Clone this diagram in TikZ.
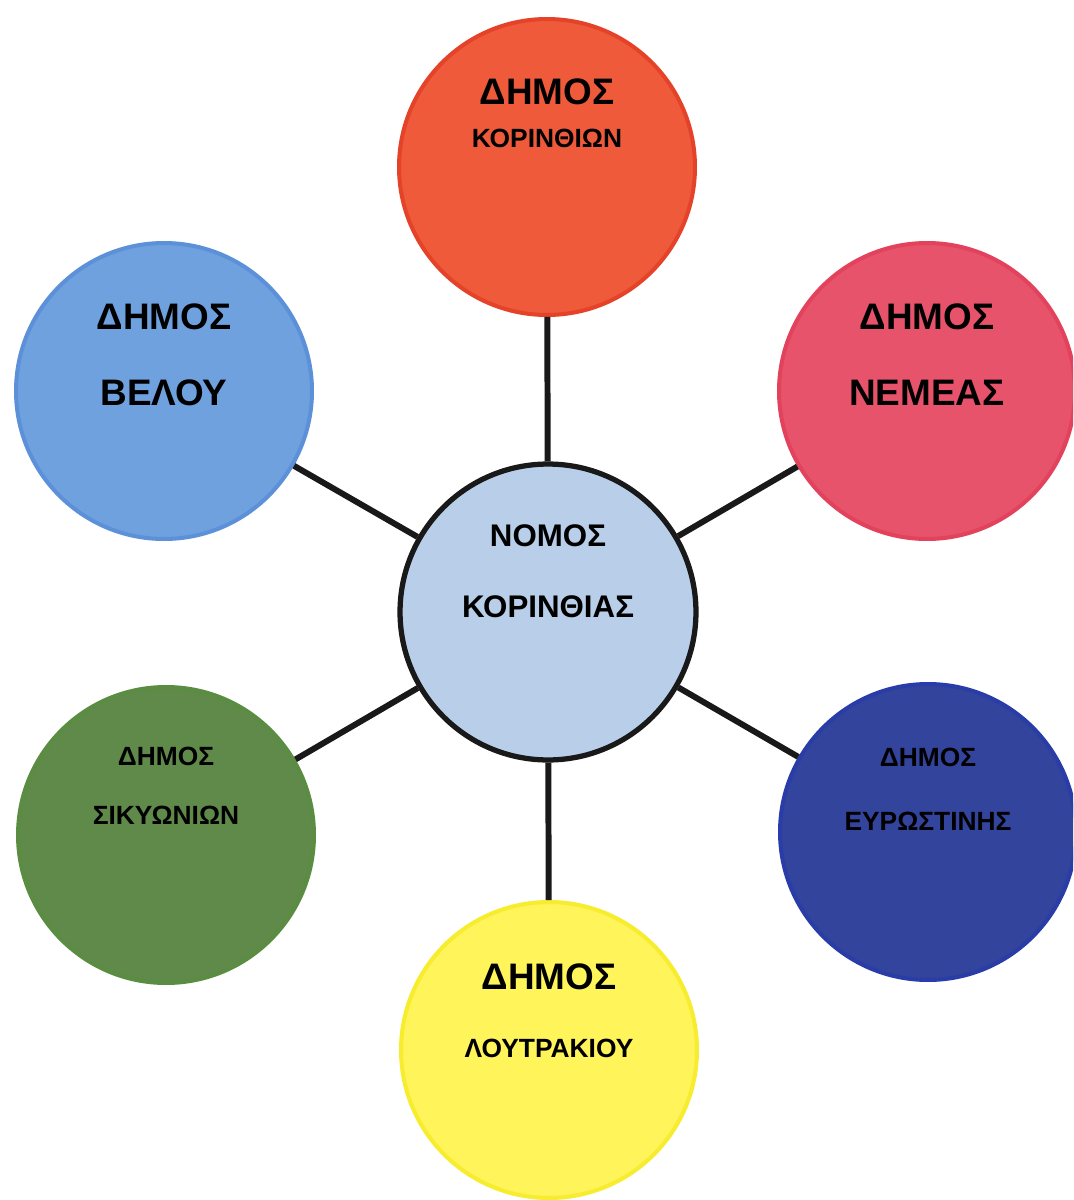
\documentclass[tikz,border=0pt]{standalone}
\usepackage{fontspec}
\setmainfont{Liberation Sans}
\usepackage{xcolor}
\usepackage{tikz}
\usetikzlibrary{calc}
\definecolor{redfill}{HTML}{EF5A3B}
\definecolor{redborder}{HTML}{E4432A}
\definecolor{skyfill}{HTML}{70A1DF}
\definecolor{skyborder}{HTML}{5C90D8}
\definecolor{pinkfill}{HTML}{E8536C}
\definecolor{pinkborder}{HTML}{E2425C}
\definecolor{greenfill}{HTML}{5F8A4A}
\definecolor{greenborder}{HTML}{5A8C42}
\definecolor{navyfill}{HTML}{33449D}
\definecolor{navyborder}{HTML}{2A3CA6}
\definecolor{yellowfill}{HTML}{FFF45A}
\definecolor{yellowborder}{HTML}{F7EC2E}
\definecolor{nomosfill}{HTML}{B9CFE9}
\tikzset{
  dimos/.style={circle, minimum size=5.92cm, line width=2.3pt, inner sep=0pt},
  bigtext/.style={inner sep=0pt, font=\fontsize{21}{24}\selectfont\bfseries},
  smalltext/.style={inner sep=0pt, font=\fontsize{15}{18}\selectfont\bfseries},
  nomostext/.style={inner sep=0pt, font=\fontsize{17.8}{21}\selectfont\bfseries},
  link/.style={line width=3.4pt, black!90}
}
\begin{document}
\begin{tikzpicture}[x=0.02cm, y=-0.02cm]
    \clip (0,0) rectangle (1073,1200);
    \fill[white] (0,0) rectangle (1073,1200);

    % the prefecture in the middle
    \node[dimos, fill=nomosfill, draw=black!90, line width=3pt] (nomos) at (548,612) {};

    % the six municipalities
    \node[dimos, fill=redfill, draw=redborder] (korinthos) at (547,167) {};
    \node[dimos, fill=skyfill, draw=skyborder] (velo) at (164,391) {};
    \node[dimos, fill=pinkfill, draw=pinkborder] (nemea) at (927,391) {};
    \node[dimos, fill=greenfill, draw=greenborder] (sikyon) at (166,835) {};
    \node[dimos, fill=navyfill, draw=navyborder] (evrostini) at (928,832) {};
    \node[dimos, fill=yellowfill, draw=yellowborder] (loutraki) at (549,1050) {};

    % links
    \foreach \d in {korinthos, velo, nemea, sikyon, evrostini, loutraki}
      \draw[link] (nomos) -- (\d);

    % labels
    \node[nomostext] (nomos-a) at ($(nomos)+(0,-76)$) {ΝΟΜΟΣ};
    \node[nomostext] (nomos-b) at ($(nomos)+(0,-5)$) {ΚΟΡΙΝΘΙΑΣ};

    \node[bigtext] (korinthos-a) at ($(korinthos)+(0,-75)$) {ΔΗΜΟΣ};
    \node[smalltext] (korinthos-b) at ($(korinthos)+(0,-29)$) {ΚΟΡΙΝΘΙΩΝ};

    \node[bigtext] (velo-a) at ($(velo)+(0,-74)$) {ΔΗΜΟΣ};
    \node[bigtext] (velo-b) at ($(velo)+(0,2)$) {ΒΕΛΟΥ};

    \node[bigtext] (nemea-a) at ($(nemea)+(0,-74)$) {ΔΗΜΟΣ};
    \node[bigtext] (nemea-b) at ($(nemea)+(0,2)$) {ΝΕΜΕΑΣ};

    \node[smalltext] (sikyon-a) at ($(sikyon)+(0,-79)$) {ΔΗΜΟΣ};
    \node[smalltext] (sikyon-b) at ($(sikyon)+(0,-20)$) {ΣΙΚΥΩΝΙΩΝ};

    \node[smalltext] (evrostini-a) at ($(evrostini)+(0,-75)$) {ΔΗΜΟΣ};
    \node[smalltext] (evrostini-b) at ($(evrostini)+(0,-11)$) {ΕΥΡΩΣΤΙΝΗΣ};

    \node[bigtext] (loutraki-a) at ($(loutraki)+(0,-73)$) {ΔΗΜΟΣ};
    \node[smalltext] (loutraki-b) at ($(loutraki)+(0,-2)$) {ΛΟΥΤΡΑΚΙΟΥ};
  \end{tikzpicture}
\end{document}
